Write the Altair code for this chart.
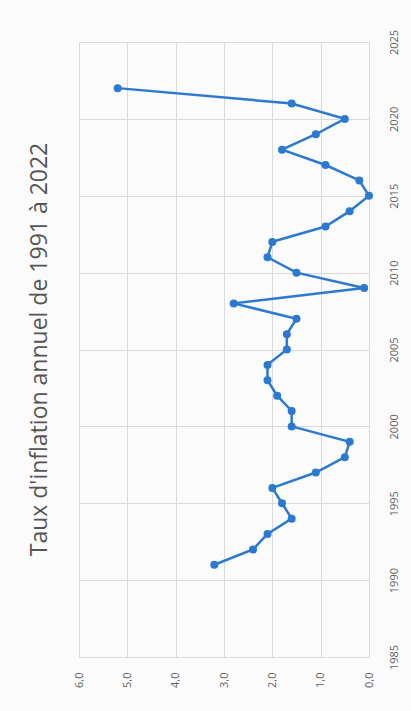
import altair as alt
import pandas as pd

# Annual inflation rate (%) by year
years = [1991, 1992, 1993, 1994, 1995, 1996, 1997, 1998, 1999, 2000,
         2001, 2002, 2003, 2004, 2005, 2006, 2007, 2008, 2009, 2010,
         2011, 2012, 2013, 2014, 2015, 2016, 2017, 2018, 2019, 2020,
         2021, 2022]
rates = [3.2, 2.4, 2.1, 1.6, 1.8, 2.0, 1.1, 0.5, 0.4, 1.6,
         1.6, 1.9, 2.1, 2.1, 1.7, 1.7, 1.5, 2.8, 0.1, 1.5,
         2.1, 2.0, 0.9, 0.4, 0.0, 0.2, 0.9, 1.8, 1.1, 0.5,
         1.6, 5.2]

year_ticks = [1985, 1990, 1995, 2000, 2005, 2010, 2015, 2020, 2025]
rate_ticks = [0, 1, 2, 3, 4, 5, 6]

title_text = "Taux d'inflation annuel  de 1991 à 2022"

df = pd.DataFrame({"annee": years, "taux": rates})

blue = "#2b79d0"
grid = "#dadada"
label_col = "#5f5f5f"
font = "Open Sans"

x_enc = alt.X(
    "taux:Q",
    scale=alt.Scale(domain=[0, 6], reverse=True, nice=False, zero=False),
    axis=alt.Axis(
        orient="bottom", values=rate_ticks, title=None,
        labelExpr="replace(format(datum.value, '.1f'), '.', ',')",
        labelAngle=-90, labelAlign="right", labelBaseline="middle",
        labelPadding=15, tickSize=0, domain=False,
        grid=True, gridColor=grid, gridWidth=1,
        labelFont=font, labelFontSize=11, labelColor=label_col,
    ),
)
y_enc = alt.Y(
    "annee:Q",
    scale=alt.Scale(domain=[1985, 2025], nice=False, zero=False),
    axis=alt.Axis(
        orient="right", values=year_ticks, title=None, format="d",
        labelAngle=-90, labelAlign="center", labelBaseline="top",
        labelPadding=19, tickSize=0, domain=False,
        grid=True, gridColor=grid, gridWidth=1,
        labelFont=font, labelFontSize=11, labelColor=label_col,
    ),
)

base = alt.Chart(df).encode(x=x_enc, y=y_enc, order=alt.Order("annee:Q"))

line = base.mark_line(color=blue, strokeWidth=2.5)
points = base.mark_circle(color=blue, size=64, opacity=1)

chart = (
    (line + points)
    .properties(
        width=290,
        height=615,
        autosize=alt.AutoSizeParams(type="none"),
        padding={"left": 79, "top": 42, "right": 42, "bottom": 54},
        background="#fbfbfb",
        title=alt.TitleParams(
            text=title_text, orient="left", anchor="middle",
            font=font, fontSize=23, fontWeight="normal",
            color="#555555", offset=21,
        ),
    )
    .configure_view(stroke=None)
)

chart.save("out.html", embed_options={"renderer": "svg", "actions": False})
